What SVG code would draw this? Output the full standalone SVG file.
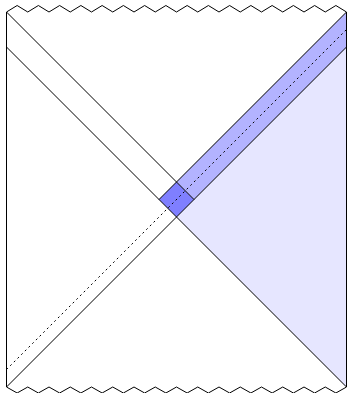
<svg xmlns="http://www.w3.org/2000/svg" width="348" height="393" viewBox="0 0 348 393">
<style>
.ln{stroke:#000;stroke-width:1;fill:none;stroke-linecap:butt;stroke-linejoin:miter}
.dot{stroke:#000;stroke-width:1;fill:none;stroke-dasharray:2 3.2}
</style>
<rect width="348" height="393" fill="#fff"/>
<g id="region-triangle"><polygon points="346.5,47 176.5,217 346.5,387" fill="#e6e6ff"/></g>
<g id="region-strip"><polygon points="346.5,12 176.5,182 194,199.5 346.5,47" fill="#b3b3ff"/></g>
<g id="region-diamond"><polygon points="176.5,182 194,199.5 176.5,217 159,199.5" fill="#7f7fff"/></g>
<g id="connectors">
<line class="ln" x1="6.5" y1="12" x2="6.5" y2="387"/>
<line class="ln" x1="346.5" y1="12" x2="346.5" y2="387"/>
<line class="ln" x1="6.5" y1="12" x2="194" y2="199.5"/>
<line class="ln" x1="6.5" y1="47" x2="346.5" y2="387"/>
<line class="ln" x1="346.5" y1="47" x2="6.5" y2="387"/>
<line class="ln" x1="346.5" y1="12" x2="159" y2="199.5"/>
<line class="dot" x1="6.5" y1="369.5" x2="346.5" y2="29.5"/>
<path class="ln" d="M6.5 12 l10.625-6.5 10.625 6.5 10.625-6.5 10.625 6.5 10.625-6.5 10.625 6.5 10.625-6.5 10.625 6.5 10.625-6.5 10.625 6.5 10.625-6.5 10.625 6.5 10.625-6.5 10.625 6.5 10.625-6.5 10.625 6.5 10.625-6.5 10.625 6.5 10.625-6.5 10.625 6.5 10.625-6.5 10.625 6.5 10.625-6.5 10.625 6.5 10.625-6.5 10.625 6.5 10.625-6.5 10.625 6.5 10.625-6.5 10.625 6.5 10.625-6.5 10.625 6.5"/>
<path class="ln" d="M6.5 387 l10.625 6 10.625-6 10.625 6 10.625-6 10.625 6 10.625-6 10.625 6 10.625-6 10.625 6 10.625-6 10.625 6 10.625-6 10.625 6 10.625-6 10.625 6 10.625-6 10.625 6 10.625-6 10.625 6 10.625-6 10.625 6 10.625-6 10.625 6 10.625-6 10.625 6 10.625-6 10.625 6 10.625-6 10.625 6 10.625-6 10.625 6 10.625-6"/>
</g>
</svg>
